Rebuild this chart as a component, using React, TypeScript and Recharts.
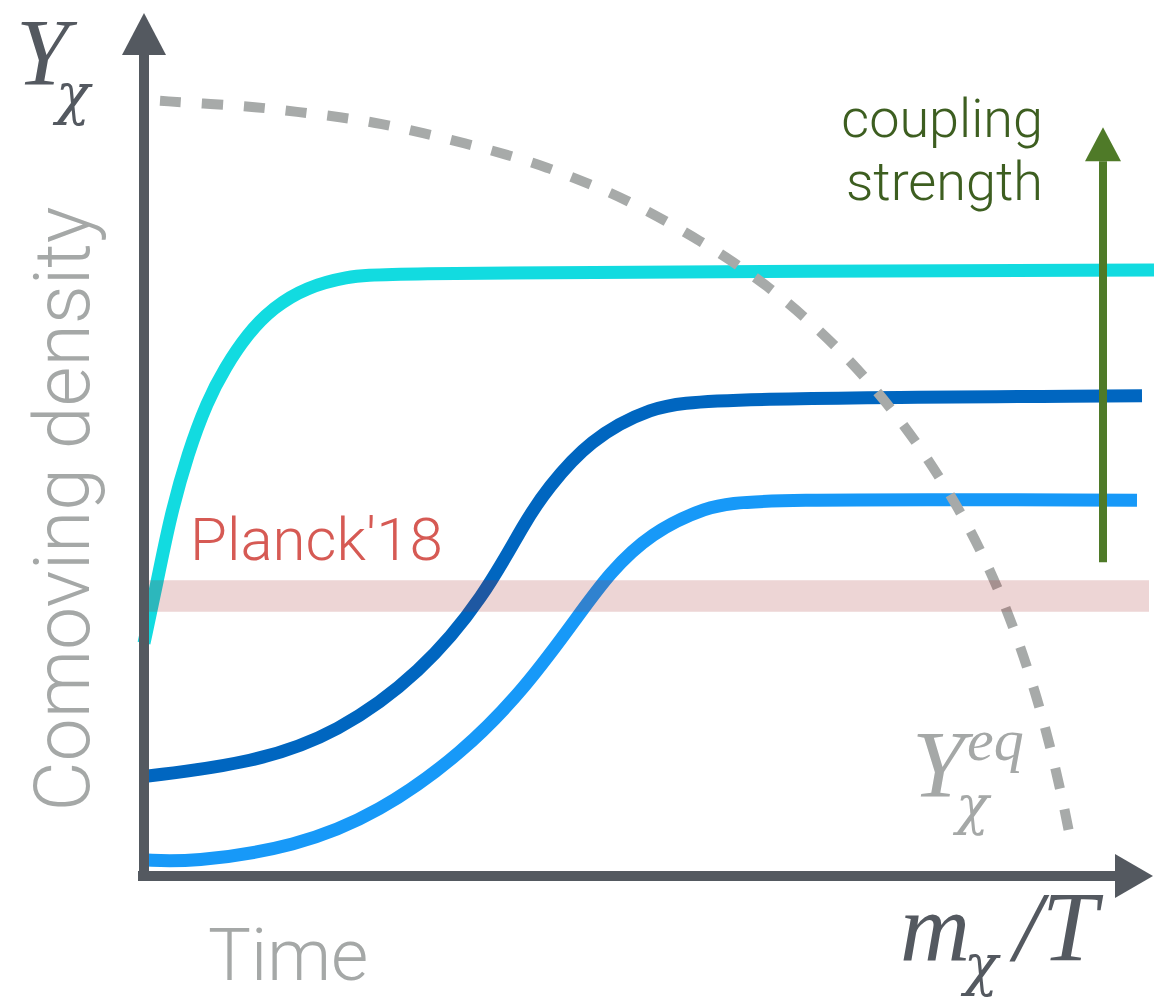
import React from 'react';
import {
  ComposedChart,
  Line,
  XAxis,
  YAxis,
  ReferenceLine,
  ReferenceArea,
  ReferenceDot,
} from 'recharts';

// curves (x: m/T, y: comoving density, arbitrary units)
const strongCoupling = [
  { x: 0, y: 2.74 },
  { x: 0.13, y: 3.45 },
  { x: 0.26, y: 4.22 },
  { x: 0.44, y: 4.98 },
  { x: 0.63, y: 5.58 },
  { x: 0.81, y: 5.98 },
  { x: 1.03, y: 6.37 },
  { x: 1.29, y: 6.69 },
  { x: 1.63, y: 6.93 },
  { x: 2.03, y: 7.05 },
  { x: 2.36, y: 7.09 },
  { x: 5.56, y: 7.11 },
  { x: 10.1, y: 7.13 },
];

const mediumCoupling = [
  { x: 0, y: 1.17 },
  { x: 1.1, y: 1.33 },
  { x: 1.94, y: 1.68 },
  { x: 2.77, y: 2.39 },
  { x: 3.4, y: 3.28 },
  { x: 3.82, y: 4.19 },
  { x: 4.03, y: 4.55 },
  { x: 4.45, y: 5.13 },
  { x: 5.07, y: 5.52 },
  { x: 5.62, y: 5.62 },
  { x: 9.98, y: 5.65 },
];

const weakCoupling = [
  { x: 0, y: 0.19 },
  { x: 0.47, y: 0.16 },
  { x: 1.52, y: 0.34 },
  { x: 2.35, y: 0.74 },
  { x: 3.19, y: 1.45 },
  { x: 3.82, y: 2.22 },
  { x: 4.36, y: 3.09 },
  { x: 4.65, y: 3.56 },
  { x: 5.07, y: 4.04 },
  { x: 5.62, y: 4.34 },
  { x: 6.04, y: 4.44 },
  { x: 9.93, y: 4.42 },
];

const equilibrium = [
  { x: 0.16, y: 9.12 },
  { x: 0.68, y: 9.08 },
  { x: 1.11, y: 9.05 },
  { x: 1.53, y: 8.99 },
  { x: 1.96, y: 8.93 },
  { x: 2.38, y: 8.85 },
  { x: 2.79, y: 8.74 },
  { x: 3.21, y: 8.62 },
  { x: 3.62, y: 8.49 },
  { x: 4.03, y: 8.34 },
  { x: 4.43, y: 8.15 },
  { x: 4.79, y: 7.98 },
  { x: 5.57, y: 7.48 },
  { x: 6.27, y: 6.93 },
  { x: 6.93, y: 6.24 },
  { x: 7.48, y: 5.51 },
  { x: 7.97, y: 4.69 },
  { x: 8.39, y: 3.81 },
  { x: 8.72, y: 2.87 },
  { x: 8.98, y: 1.92 },
  { x: 9.18, y: 0.95 },
  { x: 9.28, y: 0.33 },
];

// Planck'18 band and the coupling-strength arrow
const planckBand = [3.11, 3.48];
const couplingArrow = { x: 9.59, from: 3.69, to: 8.41 };

const AXIS = '#545960';
const GREEN = '#4f7a28';
const GREY_TEXT = '#a5a8a7';
const SANS = 'Roboto, "Liberation Sans", sans-serif';
const SERIF = '"Liberation Serif", "DejaVu Serif", serif';
const GREEK = '"DejaVu Serif", "Liberation Serif", serif';

const arrowUp = (half: number, len: number, fill: string) => (props: any) => {
  const { cx, cy } = props;
  return <polygon points={`${cx - half},${cy} ${cx + half},${cy} ${cx},${cy - len}`} fill={fill} />;
};

const arrowRight = (half: number, len: number, fill: string) => (props: any) => {
  const { cx, cy } = props;
  return <polygon points={`${cx},${cy - half} ${cx},${cy + half} ${cx + len},${cy}`} fill={fill} />;
};

const App: React.FC = () => {
  return (
    <div style={{ position: 'absolute', left: 0, top: 0, width: 1154, height: 998, background: '#fff' }}>
      <ComposedChart width={1154} height={998} margin={{ top: 26, right: 0, bottom: 122, left: 144 }}>
        <XAxis type="number" dataKey="x" domain={[0, 10.1]} hide />
        <YAxis type="number" dataKey="y" domain={[0, 10]} hide />

        <Line data={strongCoupling} dataKey="y" type="basis" stroke="#12dbe0" strokeWidth={13} dot={false} isAnimationActive={false} />
        <Line data={mediumCoupling} dataKey="y" type="basis" stroke="#0066c0" strokeWidth={13} dot={false} isAnimationActive={false} />
        <Line data={weakCoupling} dataKey="y" type="basis" stroke="#1799f8" strokeWidth={13} dot={false} isAnimationActive={false} />
        <Line data={equilibrium} dataKey="y" type="basis" stroke="#a7aaa9" strokeWidth={10} strokeDasharray="21 21" dot={false} isAnimationActive={false} />

        <ReferenceArea
          x1={0.04}
          x2={10.05}
          y1={planckBand[0]}
          y2={planckBand[1]}
          fill="#a02020"
          fillOpacity={0.19}
          stroke="none"
          ifOverflow="visible"
          zIndex={450}
        />

        {/* axes with arrow heads */}
        <ReferenceLine segment={[{ x: 0, y: -0.06 }, { x: 0, y: 9.66 }]} stroke={AXIS} strokeWidth={10} ifOverflow="visible" zIndex={500} />
        <ReferenceLine segment={[{ x: -0.06, y: 0 }, { x: 9.71, y: 0 }]} stroke={AXIS} strokeWidth={10} ifOverflow="visible" zIndex={500} />
        <ReferenceDot x={0} y={9.66} r={1} ifOverflow="visible" shape={arrowUp(22, 42, AXIS)} />
        <ReferenceDot x={9.71} y={0} r={1} ifOverflow="visible" shape={arrowRight(22, 38, AXIS)} />

        {/* coupling strength arrow */}
        <ReferenceLine
          segment={[{ x: couplingArrow.x, y: couplingArrow.from }, { x: couplingArrow.x, y: couplingArrow.to }]}
          stroke={GREEN}
          strokeWidth={8}
          ifOverflow="visible"
          zIndex={500}
        />
        <ReferenceDot x={couplingArrow.x} y={couplingArrow.to} r={1} ifOverflow="visible" shape={arrowUp(18, 34, GREEN)} />
      </ComposedChart>

      <svg width={1154} height={998} style={{ position: 'absolute', left: 0, top: 0, pointerEvents: 'none' }}>
        {/* Y_χ */}
        <text x={16} y={85} fontFamily={SERIF} fontStyle="italic" fontSize={95} fill={AXIS}>
          Y
          <tspan x={56} y={113} fontFamily={GREEK} fontSize={56}>χ</tspan>
        </text>

        {/* m_χ / T */}
        <text x={900} y={960} fontFamily={SERIF} fontStyle="italic" fontSize={97} fill={AXIS}>
          m
          <tspan x={964} y={984} fontFamily={GREEK} fontSize={56}>χ</tspan>
          <tspan x={1014} y={960} fontSize={100}>/T</tspan>
        </text>

        {/* Y_χ^eq */}
        <text x={912} y={797} fontFamily={SERIF} fontStyle="italic" fontSize={95} fill={GREY_TEXT}>
          Y
          <tspan x={967} y={760} fontSize={60}>eq</tspan>
          <tspan x={956} y={824} fontFamily={GREEK} fontSize={54}>χ</tspan>
        </text>

        <text x={1043} y={137} textAnchor="end" fontFamily={SANS} fontWeight={300} fontSize={54} fill="#3d5e20">coupling</text>
        <text x={1043} y={200} textAnchor="end" fontFamily={SANS} fontWeight={300} fontSize={54} fill="#3d5e20">strength</text>

        <text x={190} y={560} fontFamily={SANS} fontWeight={300} fontSize={60} fill="#d65a54">Planck'18</text>

        <text x={208} y={980} fontFamily={SANS} fontWeight={300} fontSize={72} fill={GREY_TEXT}>Time</text>
        <text
          x={89}
          y={509}
          transform="rotate(-90 89 509)"
          textAnchor="middle"
          fontFamily={SANS}
          fontWeight={300}
          fontSize={77}
          fill={GREY_TEXT}
        >
          Comoving density
        </text>
      </svg>
    </div>
  );
};

export default App;
